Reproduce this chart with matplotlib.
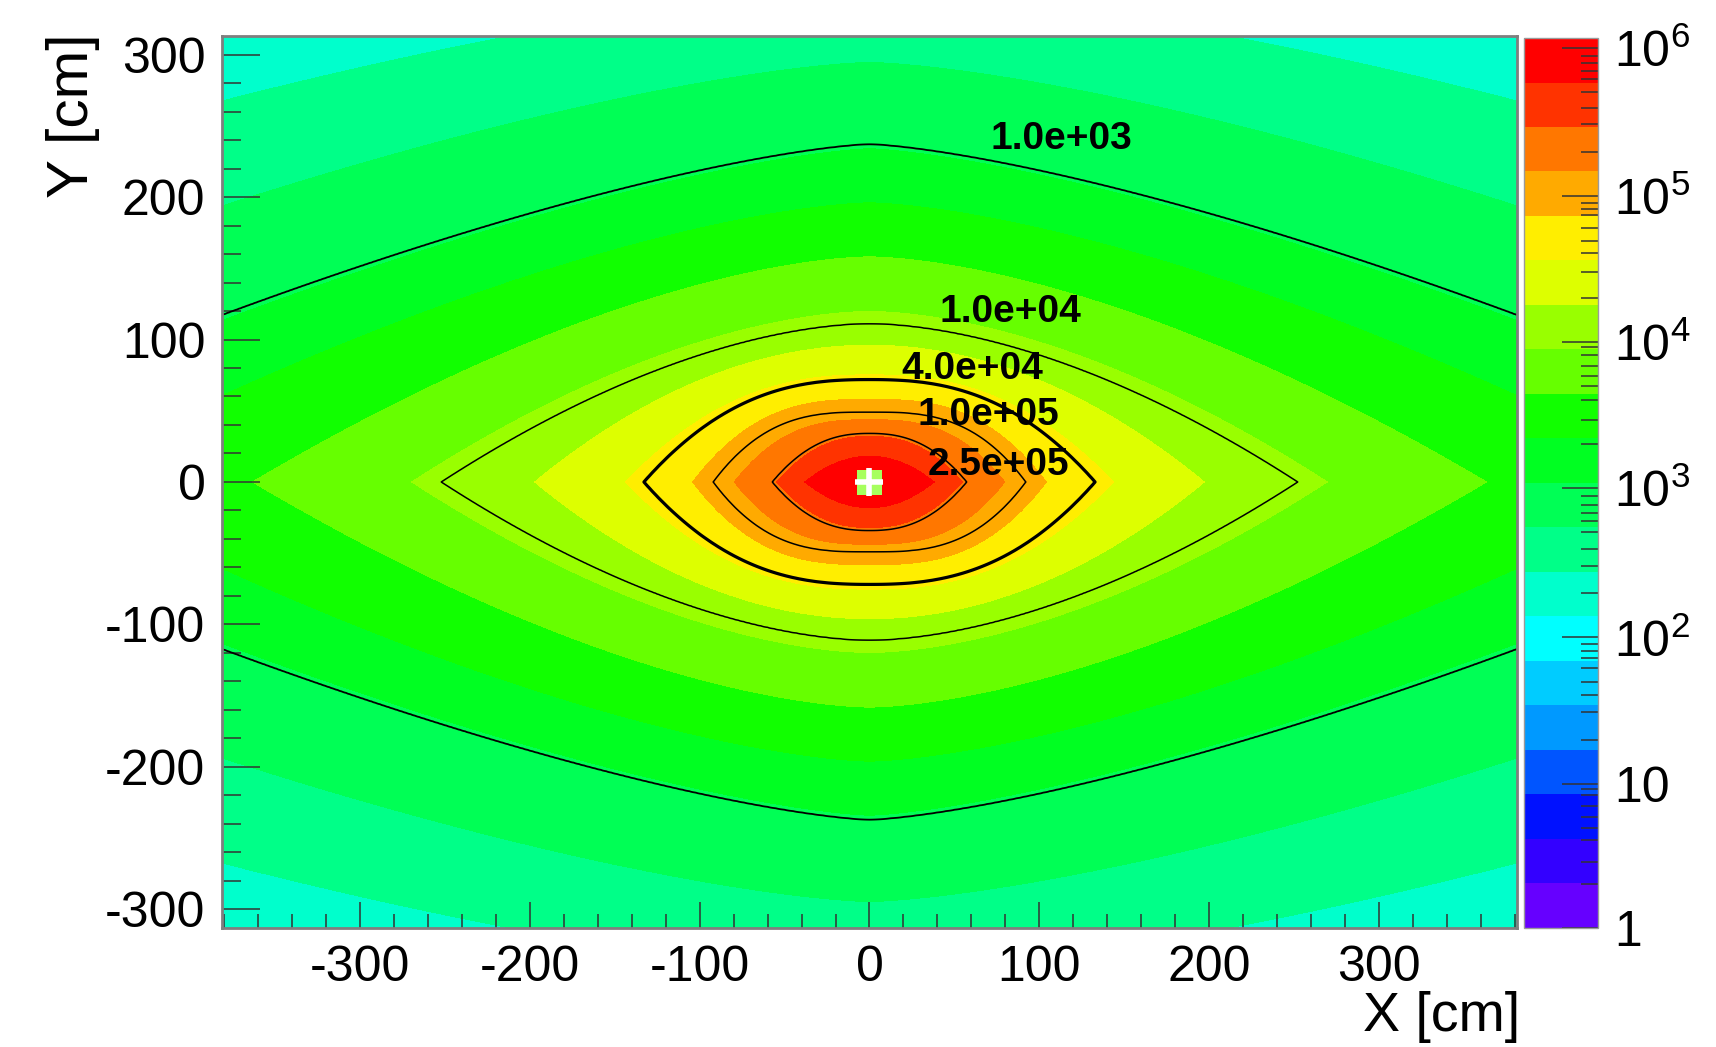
import numpy as np
import matplotlib
matplotlib.use('Agg')
import matplotlib.pyplot as plt
from matplotlib.colors import LogNorm
from matplotlib.ticker import FixedLocator, FixedFormatter, MultipleLocator

plt.rcParams['font.family'] = ['Liberation Sans', 'DejaVu Sans']
plt.rcParams['mathtext.fontset'] = 'custom'
plt.rcParams['mathtext.rm'] = 'Liberation Sans'
plt.rcParams['mathtext.default'] = 'regular'
plt.rcParams['axes.unicode_minus'] = False

# contour shapes:
# log10 of the level, half width along y=0 [cm], half height along x=0 [cm],
# and the lens exponent (bigger = blunter tips)
shape_level = [2.0, 2.42, 2.72, 3.0, 3.63, 3.93, 4.0, 4.235, 4.54, 4.6, 4.84, 5.0, 5.4, 5.75, 5.95]
shape_halfx = [1400, 1030, 800, 620, 363, 270, 252, 197, 143, 133, 104, 92, 57, 38, 6]
shape_halfy = [420, 345, 295, 237, 158, 120, 111, 96, 75, 72, 58, 49, 34, 18, 4]
shape_power = [1.5, 1.5, 1.45, 1.4, 1.62, 1.73, 1.75, 2.0, 2.4, 2.5, 2.8, 3.0, 2.4, 2.0, 2.0]

# labelled contour lines
line_levels = [1e3, 1e4, 4e4, 1e5, 2.5e5]
line_labels = ['1.0e+03', '1.0e+04', '4.0e+04', '1.0e+05', '2.5e+05']
line_widths = [1.3, 1.1, 2.3, 1.1, 1.1]
label_x = [71, 41, 19, 28, 34]
label_y = [241, 119, 79, 47, 12]

# source position
source_x = [0]
source_y = [0]

# palette (bottom to top), 20 bands from 1 to 10^6.05
palette = ['#6600ff', '#3300ff', '#0011ff', '#0055ff', '#0099ff', '#00ccff',
           '#00ffff', '#00ffcc', '#00ff88', '#00ff55', '#00ff22', '#11ff00',
           '#66ff00', '#99ff00', '#ddff00', '#ffee00', '#ffaa00', '#ff7700',
           '#ff3300', '#ff0000']
zmax_log = 6.05

cbar_ticks = [1, 10, 1e2, 1e3, 1e4, 1e5, 1e6]
cbar_labels = ['1', '10', '$10^{2}$', '$10^{3}$', '$10^{4}$', '$10^{5}$', '$10^{6}$']

# build the field: for each point find the level whose lens passes through it
xs = np.linspace(-381, 381, 763)
ys = np.linspace(-313, 313, 627)
X, Y = np.meshgrid(xs, ys)
AX = np.abs(X)
AY = np.abs(Y)
lo = np.full(X.shape, 1.5)
hi = np.full(X.shape, 5.95)
for _ in range(28):
    mid = 0.5 * (lo + hi)
    a = np.interp(mid, shape_level, shape_halfx)
    b = np.interp(mid, shape_level, shape_halfy)
    p = np.interp(mid, shape_level, shape_power)
    inside = (AY / b + (AX / a) ** p) <= 1
    lo = np.where(inside, mid, lo)
    hi = np.where(inside, hi, mid)
Z = 10 ** (0.5 * (lo + hi))

fig = plt.figure(figsize=(17.16, 10.47), dpi=100)
ax = fig.add_axes([0.1294, 0.1137, 0.7546, 0.8519])
cax = fig.add_axes([0.888, 0.1137, 0.0431, 0.8500])

levels = 10 ** np.linspace(0, zmax_log, 21)
norm = LogNorm(vmin=1, vmax=10 ** zmax_log)
cf = ax.contourf(X, Y, Z, levels=levels, colors=palette, norm=norm)
ax.contour(X, Y, Z, levels=line_levels, colors='k', linewidths=line_widths)

for t, lx, ly in zip(line_labels, label_x, label_y):
    ax.text(lx, ly, t, fontsize=28, fontweight='bold', ha='left', va='center', color='black')

ax.plot(source_x, source_y, 's', color='#a6ff5e', markersize=18, markeredgewidth=0)
ax.plot(source_x, source_y, '+', color='white', markersize=20, markeredgewidth=4)

ax.set_xlim(-381, 381)
ax.set_ylim(-313, 313)
ax.xaxis.set_major_locator(MultipleLocator(100))
ax.xaxis.set_minor_locator(MultipleLocator(20))
ax.yaxis.set_major_locator(MultipleLocator(100))
ax.yaxis.set_minor_locator(MultipleLocator(20))
ax.tick_params(axis='x', which='major', direction='in', length=19, width=1.1, color='#333333',
               labelsize=36, pad=12)
ax.tick_params(axis='x', which='minor', direction='in', length=10, width=1.1, color='#333333')
ax.tick_params(axis='y', which='major', direction='in', length=27, width=1.1, color='#333333',
               labelsize=36, pad=12)
ax.tick_params(axis='y', which='minor', direction='in', length=14, width=1.1, color='#333333')
for s in ax.spines.values():
    s.set_color('#7f7f7f')
    s.set_linewidth(2)

cb = fig.colorbar(cf, cax=cax)
cb.outline.set_edgecolor('#9a9a9a')
cb.outline.set_linewidth(1)
cax.yaxis.set_major_locator(FixedLocator(cbar_ticks))
cax.yaxis.set_major_formatter(FixedFormatter(cbar_labels))
minor = [m * 10 ** e for e in range(0, 6) for m in range(2, 10)]
cax.yaxis.set_minor_locator(FixedLocator(minor))
cax.tick_params(which='major', direction='in', length=26, width=1.1, color='#333333',
                labelsize=36, pad=12)
cax.tick_params(which='minor', direction='in', length=12, width=1.1, color='#333333')

fig.text(0.0425, 0.968, 'Y [cm]', rotation=90, ha='center', va='top', fontsize=42)
fig.text(0.886, 0.004, 'X [cm]', ha='right', va='bottom', fontsize=40)

fig.savefig('out.png', dpi=100)
